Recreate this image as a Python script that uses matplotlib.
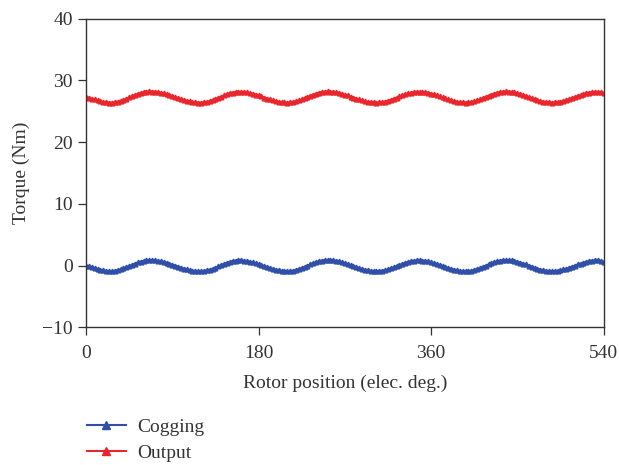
import matplotlib
matplotlib.use("Agg")
import matplotlib.pyplot as plt
import numpy as np

plt.rcParams['font.family'] = ['Liberation Serif', 'DejaVu Serif']
plt.rcParams['font.size'] = 14

# rotor position (elec. deg), 3 deg step
position = np.arange(0, 541, 3)

cogging = [
    0.00, -0.10, -0.25, -0.40, -0.55, -0.68, -0.78, -0.86, -0.90, -0.89,
    -0.84, -0.74, -0.61, -0.45, -0.26, -0.07, 0.13, 0.33, 0.51, 0.66,
    0.78, 0.86, 0.90, 0.89, 0.86, 0.80, 0.71, 0.60, 0.47, 0.32,
    0.16, 0.00, -0.16, -0.32, -0.47, -0.60, -0.71, -0.80, -0.86, -0.89,
    -0.90, -0.86, -0.78, -0.66, -0.50, -0.32, -0.12, 0.07, 0.27, 0.45,
    0.61, 0.73, 0.81, 0.85, 0.84, 0.81, 0.74, 0.65, 0.53, 0.40,
    0.25, 0.09, -0.08, -0.24, -0.40, -0.54, -0.66, -0.76, -0.84, -0.88,
    -0.90, -0.88, -0.82, -0.70, -0.56, -0.39, -0.20, 0.00, 0.20, 0.39,
    0.56, 0.70, 0.82, 0.88, 0.90, 0.88, 0.84, 0.77, 0.67, 0.54,
    0.40, 0.25, 0.08, -0.08, -0.25, -0.40, -0.54, -0.67, -0.77, -0.84,
    -0.88, -0.90, -0.88, -0.82, -0.73, -0.60, -0.45, -0.27, -0.09, 0.10,
    0.28, 0.45, 0.59, 0.71, 0.79, 0.84, 0.85, 0.82, 0.76, 0.68,
    0.56, 0.43, 0.28, 0.12, -0.05, -0.22, -0.38, -0.53, -0.65, -0.76,
    -0.84, -0.88, -0.90, -0.88, -0.82, -0.70, -0.56, -0.39, -0.20, 0.00,
    0.20, 0.39, 0.56, 0.70, 0.82, 0.88, 0.90, 0.88, 0.84, 0.75,
    0.64, 0.50, 0.34, 0.18, 0.00, -0.18, -0.34, -0.50, -0.64, -0.75,
    -0.84, -0.88, -0.90, -0.88, -0.83, -0.75, -0.63, -0.50, -0.34, -0.17,
    0.00, 0.18, 0.34, 0.49, 0.62, 0.73, 0.80, 0.84, 0.85, 0.78,
    0.62,
]

output = [
    27.30, 27.20, 27.05, 26.90, 26.75, 26.62, 26.52, 26.44, 26.40, 26.41,
    26.46, 26.56, 26.69, 26.85, 27.04, 27.23, 27.43, 27.63, 27.81, 27.96,
    28.08, 28.16, 28.20, 28.19, 28.16, 28.10, 28.01, 27.90, 27.77, 27.62,
    27.46, 27.30, 27.14, 26.98, 26.83, 26.70, 26.59, 26.50, 26.44, 26.41,
    26.40, 26.44, 26.52, 26.64, 26.80, 26.98, 27.18, 27.37, 27.57, 27.75,
    27.91, 28.03, 28.11, 28.15, 28.14, 28.11, 28.04, 27.95, 27.83, 27.70,
    27.55, 27.39, 27.22, 27.06, 26.90, 26.76, 26.64, 26.54, 26.46, 26.42,
    26.40, 26.42, 26.48, 26.60, 26.74, 26.91, 27.10, 27.30, 27.50, 27.69,
    27.86, 28.00, 28.12, 28.18, 28.20, 28.18, 28.14, 28.07, 27.97, 27.84,
    27.70, 27.55, 27.38, 27.22, 27.05, 26.90, 26.76, 26.63, 26.53, 26.46,
    26.42, 26.40, 26.42, 26.48, 26.57, 26.70, 26.85, 27.03, 27.21, 27.40,
    27.58, 27.75, 27.89, 28.01, 28.09, 28.14, 28.15, 28.12, 28.06, 27.98,
    27.86, 27.73, 27.58, 27.42, 27.25, 27.08, 26.92, 26.77, 26.65, 26.54,
    26.46, 26.42, 26.40, 26.42, 26.48, 26.60, 26.74, 26.91, 27.10, 27.30,
    27.50, 27.69, 27.86, 28.00, 28.12, 28.18, 28.20, 28.18, 28.14, 28.05,
    27.94, 27.80, 27.64, 27.48, 27.30, 27.12, 26.96, 26.80, 26.66, 26.55,
    26.46, 26.42, 26.40, 26.42, 26.47, 26.55, 26.67, 26.80, 26.96, 27.13,
    27.30, 27.48, 27.64, 27.79, 27.92, 28.03, 28.10, 28.14, 28.15, 28.08,
    27.92,
]

xticks = [0, 180, 360, 540]
yticks = [-10, 0, 10, 20, 30, 40]

fig = plt.figure(figsize=(6.19, 4.65), dpi=100)
ax = fig.add_axes([0.139, 0.296, 0.836, 0.664])

ax.plot(position, cogging, color='#2f4fa8', lw=1.5, marker='^', ms=3.4,
        label='Cogging')
ax.plot(position, output, color='#e8262c', lw=1.5, marker='^', ms=3.4,
        label='Output')

ax.set_xlim(0, 540)
ax.set_ylim(-10, 40)
ax.set_xticks(xticks)
ax.set_yticks(yticks)
ax.set_yticklabels(['\u221210' if t < 0 else str(t) for t in yticks])
ax.tick_params(direction='out', length=6, width=0.9, color='#333333',
               labelsize=14, labelcolor='#333333')
ax.tick_params(axis='x', pad=7)
for s in ax.spines.values():
    s.set_color('#333333')
    s.set_linewidth(1.0)

ax.set_xlabel('Rotor position (elec. deg.)', color='#333333', labelpad=9)
ax.set_ylabel('Torque (Nm)', color='#333333', labelpad=9)

fig.legend(loc='upper left', bbox_to_anchor=(0.14, 0.101), frameon=False,
           handlelength=2.0, handletextpad=0.6, labelspacing=0.45,
           fontsize=14, labelcolor='#333333', borderpad=0, borderaxespad=0,
           markerscale=1.7)

fig.savefig('out.png', dpi=100)
